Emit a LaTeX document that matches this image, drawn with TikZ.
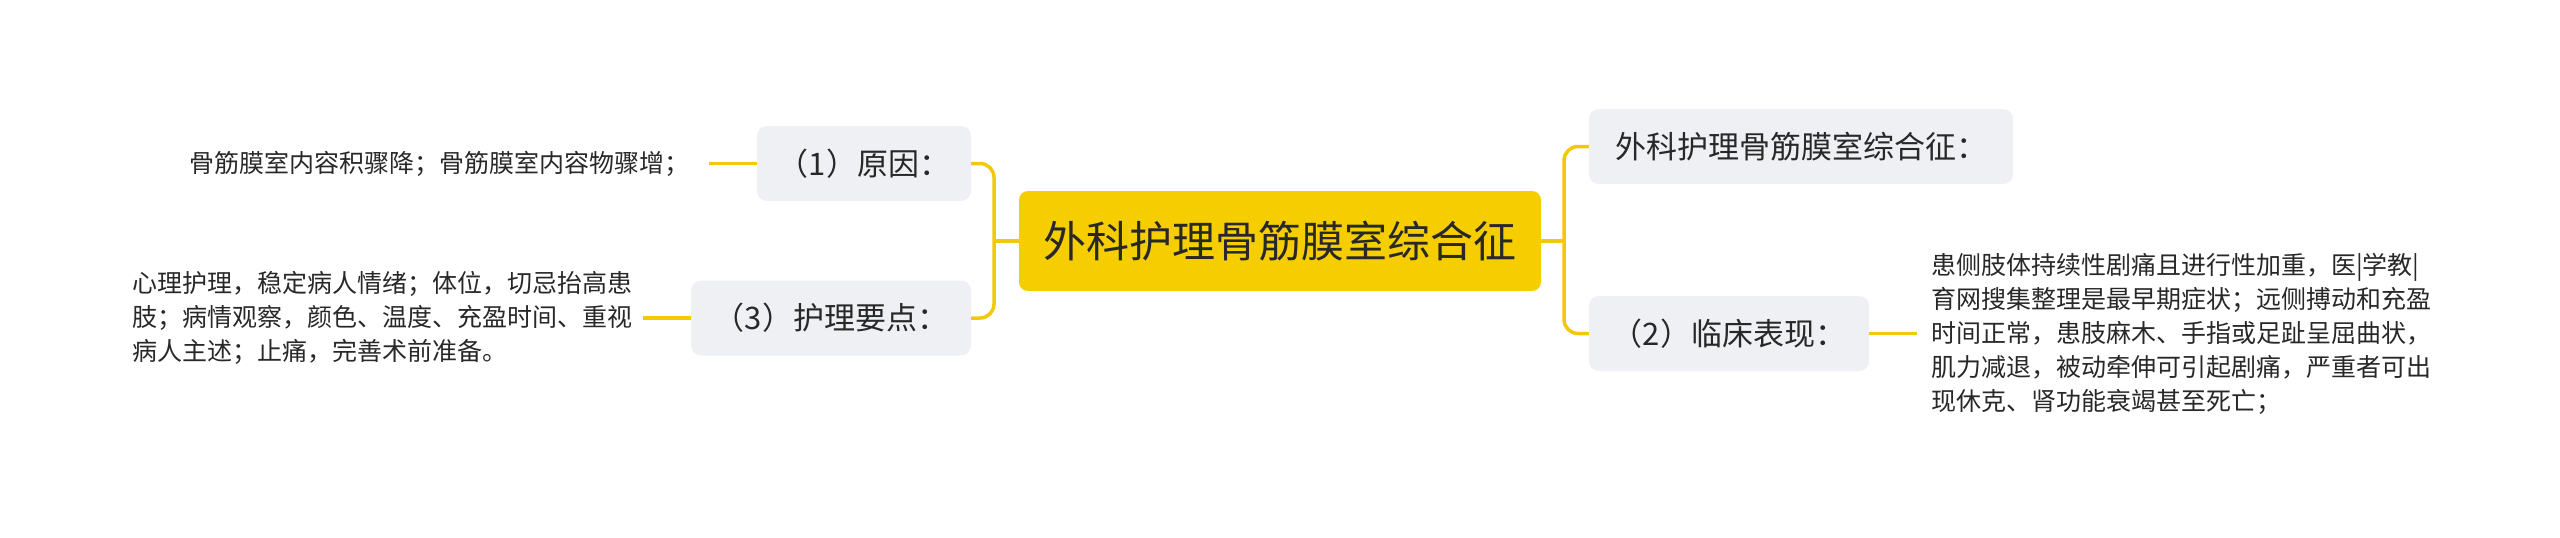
\documentclass[tikz,border=0pt]{standalone}
\usepackage{fontspec}
\setmainfont{Noto Sans CJK SC}
\definecolor{mainyellow}{RGB}{246,206,0}
\definecolor{connyellow}{RGB}{242,200,10}
\definecolor{subgray}{RGB}{238,240,243}
\definecolor{txt}{RGB}{40,40,40}
\begin{document}
\begin{tikzpicture}[x=1pt,y=-1pt,
  rootbox/.style={draw=none,fill=mainyellow,rounded corners=9pt,minimum height=100pt,
    inner sep=0pt,text=txt,font=\fontsize{43}{50}\selectfont},
  subbox/.style={draw=none,fill=subgray,rounded corners=10pt,minimum height=75pt,
    inner sep=0pt,text=txt,font=\fontsize{31}{36}\selectfont},
  leaftext/.style={inner sep=0pt,text=txt,font=\fontsize{25}{34}\selectfont,align=left},
  conn/.style={draw=connyellow,line width=3.5pt},
  ]
\useasboundingbox (0,0) rectangle (2560,538);
% nodes
\node[rootbox,minimum width=522pt] (root) at (1280,241) {外科护理骨筋膜室综合征};
\node[subbox,minimum width=214pt] (b1) at (864,163.5) {（1）原因：};
\node[subbox,minimum width=280pt] (b3) at (831,318) {（3）护理要点：};
\node[subbox,minimum width=424pt] (bt) at (1801,146.5) {外科护理骨筋膜室综合征：};
\node[subbox,minimum width=280pt] (b2) at (1729,333.5) {（2）临床表现：};
\node[leaftext,anchor=east] (l1) at (690,163.5) {骨筋膜室内容积骤降；骨筋膜室内容物骤增；};
\node[leaftext,anchor=east] (l3) at (633,318) {心理护理，稳定病人情绪；体位，切忌抬高患\\肢；病情观察，颜色、温度、充盈时间、重视\\病人主述；止痛，完善术前准备。};
\node[leaftext,anchor=west] (l2) at (1931,333.5) {患侧肢体持续性剧痛且进行性加重，医|学教|\\育网搜集整理是最早期症状；远侧搏动和充盈\\时间正常，患肢麻木、手指或足趾呈屈曲状，\\肌力减退，被动牵伸可引起剧痛，严重者可出\\现休克、肾功能衰竭甚至死亡；};
% junctions and free ends
\coordinate (jL) at (994,241);
\coordinate (jR) at (1564,241);
\coordinate (e1) at (709,163.5);
\coordinate (e3) at (643,318);
\coordinate (e2) at (1917,333.5);
% connectors
\draw[conn] (root.west) -- (jL);
\draw[conn,rounded corners=14pt] (jL) |- (b1.east);
\draw[conn,rounded corners=14pt] (jL) |- (b3.east);
\draw[conn] (root.east) -- (jR);
\draw[conn,rounded corners=14pt] (jR) |- (bt.west);
\draw[conn,rounded corners=14pt] (jR) |- (b2.west);
\draw[conn] (b1.west) -- (e1);
\draw[conn] (b3.west) -- (e3);
\draw[conn] (b2.east) -- (e2);
\end{tikzpicture}
\end{document}
